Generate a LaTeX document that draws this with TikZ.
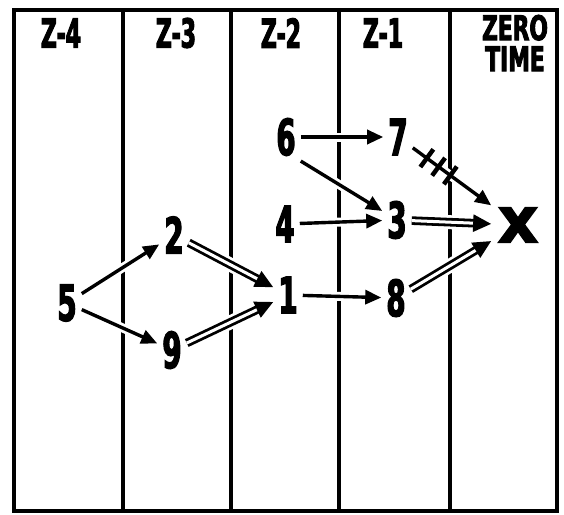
\documentclass[tikz,border=0pt]{standalone}
\usepackage{fontspec}
\newfontfamily\numfont[FakeStretch=0.55,FakeBold=2.5]{DejaVu Sans Bold}
\newfontfamily\headfont[FakeStretch=0.55,FakeBold=2.5]{DejaVu Sans Bold}
\newfontfamily\zerofont[FakeStretch=0.64,FakeBold=2.5]{DejaVu Sans Bold}
\newfontfamily\xfont[FakeBold=2]{DejaVu Sans Bold}
\usetikzlibrary{arrows.meta,decorations.markings}

\begin{document}
\begin{tikzpicture}[x=1pt,y=-1pt,
    num/.style={font=\numfont\fontsize{50}{50}\selectfont,inner sep=5pt},
    head/.style={font=\headfont\fontsize{40}{40}\selectfont,inner sep=0pt},
    onearrow/.style={line width=3.4pt,-{Triangle[length=16pt,width=14pt]},
        preaction={draw=white,line width=9pt,-}},
    twoarrow/.style={double,double distance=3pt,line width=2.8pt,
        -{Triangle[length=18pt,width=17pt]},
        preaction={draw=white,line width=14pt,-}},
    crossed/.style={postaction={decorate,decoration={markings,
        mark=between positions 0.18 and 0.5 step 0.15 with
        {\draw[line width=4.5pt,-] (0,-11pt) -- (0,11pt);}}}}]
    \useasboundingbox (0,0) rectangle (564,514);
    % Time columns
    \draw[line width=4pt] (14,10) rectangle (557,511);
    \foreach \x in {123,231,339,450} {
        \draw[line width=3.5pt] (\x,10) -- (\x,511);
    }
    % Column headings
    \foreach \x/\z in {61/4,176/3,281/2,383/1} {
        \node[head] (z\z) at (\x,33) {Z-\z};
    }
    \node[head,font=\zerofont\fontsize{34}{31}\selectfont,align=center] (zero) at (515,43) {ZERO\\TIME};

    % Events
    \node[num] (e5) at (67,303) {5};
    \node[num] (e2) at (174,235) {2};
    \node[num] (e9) at (172,350) {9};
    \node[num] (e1) at (288,295) {1};
    \node[num] (e4) at (285,224) {4};
    \node[num] (e6) at (286,137) {6};
    \node[num] (e7) at (398,137) {7};
    \node[num] (e3) at (397,220) {3};
    \node[num] (e8) at (396,298) {8};
    \node[font=\xfont\fontsize{64}{64}\selectfont,inner sep=6pt] (ex) at (518,225) {x};

    % Connections
    \draw[onearrow] (e5) -- (e2);
    \draw[onearrow] (e5) -- (e9);
    \draw[twoarrow] (e2) -- (e1);
    \draw[twoarrow] (e9) -- (e1);
    \draw[onearrow] (e1) -- (e8);
    \draw[onearrow] (e4) -- (e3);
    \draw[onearrow] (e6) -- (e7);
    \draw[onearrow] (e6.south east) -- (e3);
    \draw[onearrow,crossed] (e7) -- (ex);
    \draw[twoarrow] (e3) -- (ex);
    \draw[twoarrow] (e8) -- (ex);
\end{tikzpicture}
\end{document}
